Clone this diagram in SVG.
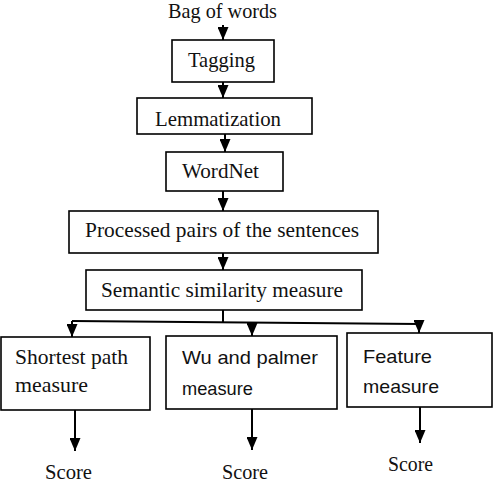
<svg xmlns="http://www.w3.org/2000/svg" width="497" height="484" viewBox="0 0 497 484">
<style>
.box{fill:#fff;stroke:#000;stroke-width:1.6}
.ser{font-family:"Liberation Serif","Times New Roman",serif;font-size:21px;fill:#111}
.san{font-family:"Liberation Sans",Arial,sans-serif;font-size:18.5px;fill:#111}
.ln{fill:none;stroke:#000;stroke-width:2}
</style>
<defs>
<marker id="ah" markerUnits="userSpaceOnUse" viewBox="0 0 13 11" refX="13" refY="5.5" markerWidth="13" markerHeight="11" orient="auto">
<path d="M0,0 L13,5.5 L0,11 z" fill="#000"/>
</marker>
</defs>
<rect width="497" height="484" fill="#fff"/>
<g id="connectors">
<line class="ln" x1="223" y1="25" x2="223" y2="40" marker-end="url(#ah)"/>
<line class="ln" x1="223" y1="82" x2="223" y2="98" marker-end="url(#ah)"/>
<line class="ln" x1="225" y1="134" x2="225" y2="152" marker-end="url(#ah)"/>
<line class="ln" x1="223" y1="191" x2="223" y2="211" marker-end="url(#ah)"/>
<line class="ln" x1="223" y1="253" x2="223" y2="270" marker-end="url(#ah)"/>
<path class="ln" d="M223,310 L223,322"/>
<path class="ln" d="M72,321 L419,324"/>
<line class="ln" x1="72" y1="321" x2="72" y2="337" marker-end="url(#ah)"/>
<line class="ln" x1="252" y1="322" x2="252" y2="336" marker-end="url(#ah)"/>
<line class="ln" x1="419" y1="324" x2="419" y2="333" marker-end="url(#ah)"/>
<line class="ln" x1="75" y1="410" x2="75" y2="451" marker-end="url(#ah)"/>
<line class="ln" x1="252" y1="409" x2="252" y2="450" marker-end="url(#ah)"/>
<line class="ln" x1="420" y1="407" x2="420" y2="443" marker-end="url(#ah)"/>
</g>
<g id="bag"><text class="ser" x="168" y="18" textLength="109" lengthAdjust="spacingAndGlyphs">Bag of words</text></g>
<g id="tagging"><rect class="box" x="172" y="40" width="102" height="42"/><text class="ser" x="188" y="67" textLength="67" lengthAdjust="spacingAndGlyphs">Tagging</text></g>
<g id="lemmatization"><rect class="box" x="137" y="98" width="175" height="36"/><text class="ser" x="155" y="126" textLength="126" lengthAdjust="spacingAndGlyphs">Lemmatization</text></g>
<g id="wordnet"><rect class="box" x="166" y="152" width="117" height="39"/><text class="ser" x="182" y="178" textLength="77" lengthAdjust="spacingAndGlyphs">WordNet</text></g>
<g id="processed"><rect class="box" x="69" y="211" width="309" height="42"/><text class="ser" x="85" y="237" textLength="274" lengthAdjust="spacingAndGlyphs">Processed pairs of the sentences</text></g>
<g id="semantic"><rect class="box" x="86" y="270" width="276" height="40"/><text class="ser" x="101" y="297" textLength="242" lengthAdjust="spacingAndGlyphs">Semantic similarity measure</text></g>
<g id="shortest"><rect class="box" x="1" y="337" width="149" height="73"/><text class="ser" x="15" y="364" textLength="113" lengthAdjust="spacingAndGlyphs">Shortest path</text><text class="ser" x="15" y="392" textLength="73" lengthAdjust="spacingAndGlyphs">measure</text></g>
<g id="wu"><rect class="box" x="166" y="336" width="171" height="73"/><text class="san" x="182" y="364" textLength="136" lengthAdjust="spacingAndGlyphs">Wu and palmer</text><text class="san" x="182" y="395" textLength="71" lengthAdjust="spacingAndGlyphs">measure</text></g>
<g id="feature"><rect class="box" x="347" y="333" width="145" height="74"/><text class="san" x="363" y="363" textLength="69" lengthAdjust="spacingAndGlyphs">Feature</text><text class="san" x="363" y="393" textLength="76" lengthAdjust="spacingAndGlyphs">measure</text></g>
<g id="score1"><text class="ser" x="45" y="479" textLength="47" lengthAdjust="spacingAndGlyphs">Score</text></g>
<g id="score2"><text class="ser" x="222" y="479" textLength="46" lengthAdjust="spacingAndGlyphs">Score</text></g>
<g id="score3"><text class="ser" x="388" y="471" textLength="45" lengthAdjust="spacingAndGlyphs">Score</text></g>
</svg>
